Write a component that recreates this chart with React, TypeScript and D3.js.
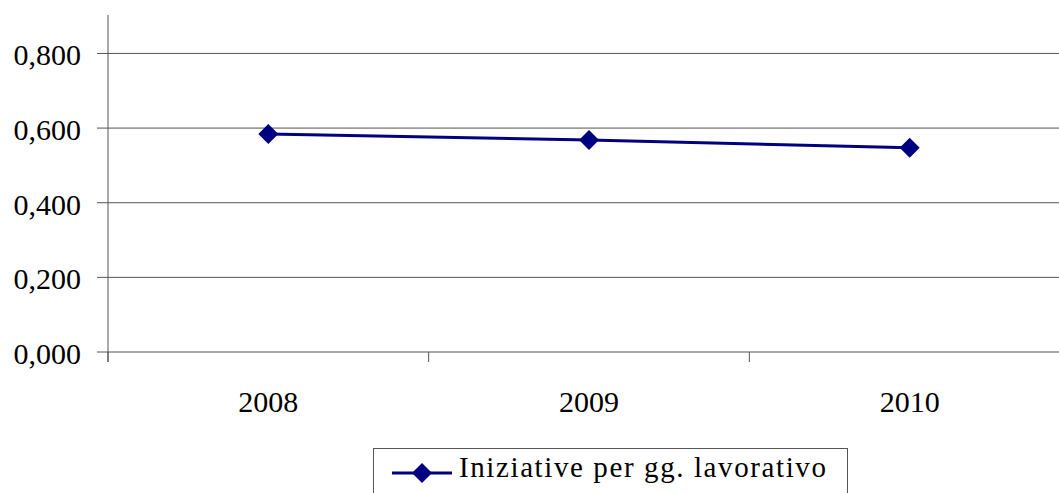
import React from "react";
import * as d3 from "d3";

const categories = ["2008", "2009", "2010"];
const values = [0.584, 0.568, 0.547];
const yTicks = [0, 0.2, 0.4, 0.6, 0.8];
const seriesName = "Iniziative per gg. lavorativo";

export default function App() {
  const W = 1059, H = 493;
  const left = 108, right = 1070, top = 15, bottom = 352;
  const x = d3.scaleBand<string>().domain(categories).range([left, right]);
  const y = d3.scaleLinear().domain([0, 0.903]).range([bottom, top]);
  const cx = (i: number) => (x(categories[i]) as number) + x.bandwidth() / 2;
  const line = d3.line<number>().x((_, i) => cx(i)).y((d) => y(d));
  const fmt = (v: number) => v.toFixed(3).replace(".", ",");
  const diamond = (px: number, py: number, r: number) =>
    `M${px},${py - r}L${px + r},${py}L${px},${py + r}L${px - r},${py}Z`;
  const navy = "#000080";
  const bounds = [...categories.map((c) => x(c) as number), right];
  const fam = `"Liberation Serif", "Times New Roman", "Noto Serif", "DejaVu Serif", serif`;
  return (
    <svg width={W} height={H} style={{ position: "absolute", left: 0, top: 0, background: "#fff" }}>
      {yTicks.map((t) => (
        <line key={"g" + t} x1={left - 11} x2={W} y1={y(t)} y2={y(t)} stroke="#555" strokeWidth={1} />
      ))}
      {yTicks.map((t) => (
        <text key={"t" + t} x={81} y={y(t) + 12} textAnchor="end" style={{ fontFamily: fam, fontSize: 30 }}>
          {fmt(t)}
        </text>
      ))}
      <line x1={left} x2={left} y1={top} y2={bottom + 10} stroke="#555" strokeWidth={1} />
      {bounds.map((b, i) => (
        <line key={"b" + i} x1={b} x2={b} y1={bottom} y2={bottom + 10} stroke="#555" strokeWidth={1} />
      ))}
      {categories.map((c, i) => (
        <text key={c} x={cx(i)} y={412} textAnchor="middle" style={{ fontFamily: fam, fontSize: 30 }}>
          {c}
        </text>
      ))}
      <path d={line(values) || ""} fill="none" stroke={navy} strokeWidth={3} />
      {values.map((v, i) => (
        <path key={"d" + i} d={diamond(cx(i), y(v), 10)} fill={navy} />
      ))}
      <rect x={373.5} y={448.5} width={474} height={60} fill="#fff" stroke="#555" strokeWidth={1} />
      <line x1={392} x2={452} y1={473} y2={473} stroke={navy} strokeWidth={3} />
      <path d={diamond(422, 473, 10)} fill={navy} />
      <text x={459} y={477} style={{ fontFamily: fam, fontSize: 29, letterSpacing: 1.6 }}>
        {seriesName}
      </text>
    </svg>
  );
}
